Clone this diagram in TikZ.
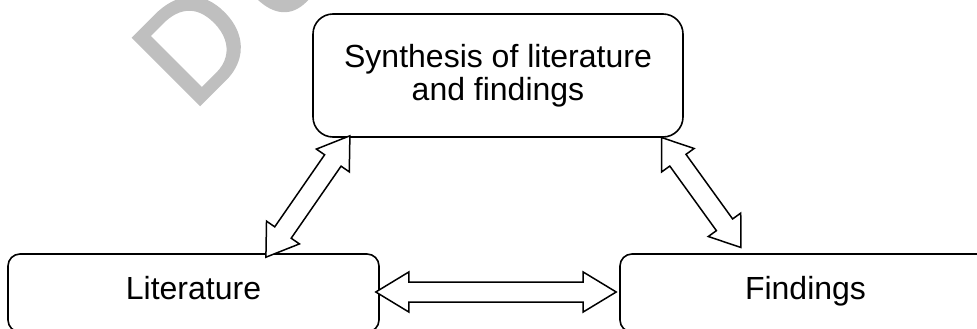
\documentclass[tikz,border=0pt]{standalone}
\usepackage{fontspec}
\setmainfont{Liberation Sans}
\newfontfamily\wmfont[FakeBold=1.5]{Liberation Sans}
\usetikzlibrary{calc}
\definecolor{wmgray}{RGB}{191,191,191}
% block double arrow between two named tips: #1, #2 tips, #3 head length
\newcommand\blockarrow[3]{%
  \draw[barrow] (#1)
    -- ($(#1)!#3!(#2)!20pt!90:(#2)$)
    -- ($(#1)!#3!(#2)!10pt!90:(#2)$)
    -- ($(#2)!#3!(#1)!10pt!-90:(#1)$)
    -- ($(#2)!#3!(#1)!20pt!-90:(#1)$)
    -- (#2)
    -- ($(#2)!#3!(#1)!20pt!90:(#1)$)
    -- ($(#2)!#3!(#1)!10pt!90:(#1)$)
    -- ($(#1)!#3!(#2)!10pt!-90:(#2)$)
    -- ($(#1)!#3!(#2)!20pt!-90:(#2)$)
    -- cycle;}
\begin{document}
\begin{tikzpicture}[x=1pt,y=-1pt,
  box/.style={draw, line width=1.6pt, font=\fontsize{32}{33}\selectfont, align=center},
  smallbox/.style={box, minimum width=371pt, minimum height=78pt, rounded corners=12pt, text height=23pt, text depth=10pt},
  barrow/.style={draw, line width=1.5pt, fill=white, line join=miter}]
\useasboundingbox (0,0) rectangle (977,329);
\clip (0,0) rectangle (977,329);
% watermark fragment
\node[rotate=45, anchor=base west, text=wmgray, font=\wmfont\fontsize{138}{140}\selectfont, inner sep=0pt] (wm) at (192,113) {D\kern22pt o};
% boxes
\node[box, minimum width=370pt, minimum height=123pt, rounded corners=20pt] (syn) at (498,75.5) {Synthesis of literature\\and findings};
\node[smallbox] (lit) at (193.5,293) {Literature};
\node[smallbox] (fin) at (805.5,293) {Findings};
% arrow tips
\coordinate (h1) at ($(lit.east)+(-4,-1)$);
\coordinate (h2) at ($(fin.west)+(-3,-1)$);
\coordinate (l1) at ($(syn.south west)+(37.7,-2)$);
\coordinate (l2) at ($(lit.north west)+(258.7,4)$);
\coordinate (r1) at ($(syn.south east)+(-22.3,-0.3)$);
\coordinate (r2) at ($(fin.north west)+(121.7,-5.7)$);
% arrows
\blockarrow{h1}{h2}{33pt}
\blockarrow{l1}{l2}{30pt}
\blockarrow{r1}{r2}{28pt}
\end{tikzpicture}
\end{document}
